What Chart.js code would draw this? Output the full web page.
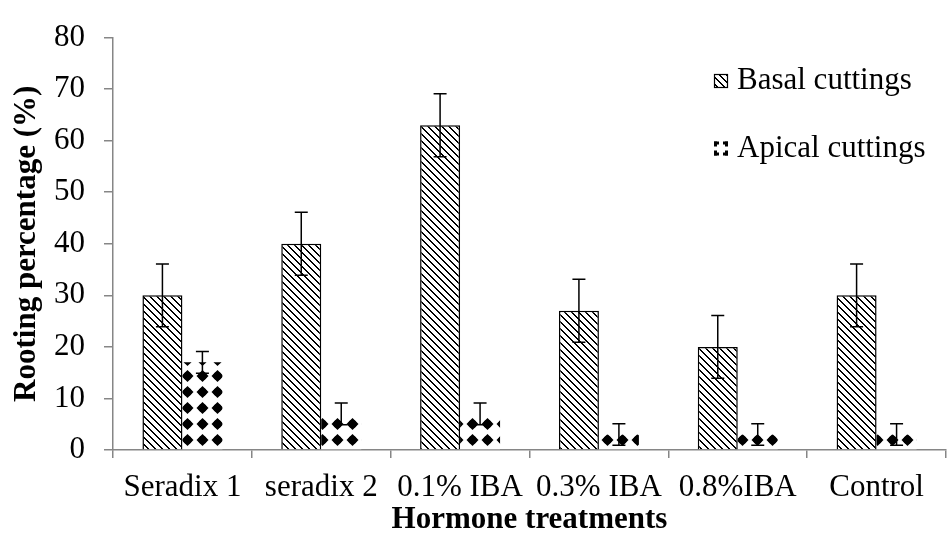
<!DOCTYPE html>
<html><head><meta charset="utf-8">
<script src="https://cdn.jsdelivr.net/npm/chart.js@4"></script>
<style>html,body{margin:0;padding:0;background:#fff}#wrap{width:947px;height:540px;position:relative}</style>
</head><body><div id="wrap"><canvas id="c"></canvas></div>
<script>
const categories = ['Seradix 1', 'seradix 2', '0.1% IBA', '0.3% IBA', '0.8%IBA', 'Control'];
const seriesLabels = ['Basal cuttings', 'Apical cuttings'];
const basalValues = [30, 40, 63, 27, 20, 30];
const apicalValues = [17, 7, 7, 3, 3, 3];
const basalErrors = [6.1, 6.1, 6.1, 6.1, 6.1, 6.1];
const apicalErrors = [2.1, 2.1, 2.1, 2.1, 2.1, 2.1];
const yMin = 0, yMax = 80, yStep = 10;
const xTitle = 'Hormone treatments';
const yTitle = 'Rooting percentage (%)';

const FONT = '"Liberation Serif", "Times New Roman", serif';
const AXIS = '#868686';

function makeHatch() {
  const c = document.createElement('canvas'); c.width = 7; c.height = 7;
  const g = c.getContext('2d');
  g.fillStyle = '#fff'; g.fillRect(0, 0, 7, 7);
  g.fillStyle = '#000';
  for (let i = 0; i < 7; i++) { g.fillRect(i, i, 1, 1); g.fillRect((i + 1) % 7, i, 1, 1); }
  return g.createPattern(c, 'repeat');
}
function makeDots() {
  const c = document.createElement('canvas'); c.width = 15; c.height = 16;
  const g = c.getContext('2d');
  g.fillStyle = '#fff'; g.fillRect(0, 0, 15, 16);
  g.fillStyle = '#000';
  g.beginPath(); g.moveTo(7.5, 2); g.lineTo(13.5, 8); g.lineTo(7.5, 14); g.lineTo(1.5, 8); g.closePath(); g.fill();
  g.beginPath(); g.arc(7.5, 8, 4.3, 0, Math.PI * 2); g.fill();
  return g.createPattern(c, 'repeat');
}
const hatch = makeHatch();
const dots = makeDots();

const errorBars = {
  id: 'errorBars',
  afterDatasetsDraw(chart) {
    const { ctx, scales: { y } } = chart;
    const errs = [basalErrors, apicalErrors];
    ctx.save();
    ctx.strokeStyle = '#000'; ctx.lineWidth = 1.5;
    chart.data.datasets.forEach((ds, di) => {
      const meta = chart.getDatasetMeta(di);
      meta.data.forEach((bar, i) => {
        const v = ds.data[i], e = errs[di][i];
        const x = bar.x;
        const t = y.getPixelForValue(v + e), b = y.getPixelForValue(v - e);
        ctx.beginPath();
        ctx.moveTo(x, t); ctx.lineTo(x, b);
        ctx.moveTo(x - 6.5, t); ctx.lineTo(x + 6.5, t);
        ctx.moveTo(x - 6.5, b); ctx.lineTo(x + 6.5, b);
        ctx.stroke();
      });
    });
    ctx.restore();
  }
};

const insideLegend = {
  id: 'insideLegend',
  afterDraw(chart) {
    const ctx = chart.ctx;
    const ys = [81, 148.5];
    const bx = 714, bs = 14, tx = 737;
    ctx.save();
    chart.data.datasets.forEach((ds, i) => {
      const cy = ys[i];
      const top = cy - bs / 2;
      if (i === 0) {
        ctx.fillStyle = hatch; ctx.fillRect(bx, top, bs, bs);
        ctx.strokeStyle = '#000'; ctx.lineWidth = 1.2;
        ctx.strokeRect(bx + 0.5, top + 0.5, bs - 1, bs - 1);
      } else {
        ctx.fillStyle = '#000';
        const L = 5, T = 3;
        ctx.fillRect(bx, top, L, T); ctx.fillRect(bx, top, T, L);
        ctx.fillRect(bx + bs - L, top, L, T); ctx.fillRect(bx + bs - T, top, T, L);
        ctx.fillRect(bx, top + bs - T, L, T); ctx.fillRect(bx, top + bs - L, T, L);
        ctx.fillRect(bx + bs - L, top + bs - T, L, T); ctx.fillRect(bx + bs - T, top + bs - L, T, L);
      }
      ctx.fillStyle = '#000';
      ctx.font = '31px ' + FONT;
      ctx.textBaseline = 'middle'; ctx.textAlign = 'left';
      ctx.fillText(ds.label, tx, cy);
    });
    ctx.restore();
  }
};

Chart.defaults.font.family = FONT;
Chart.defaults.color = '#000';

new Chart(document.getElementById('c'), {
  type: 'bar',
  data: {
    labels: categories,
    datasets: [
      { label: seriesLabels[0], data: basalValues, backgroundColor: hatch, borderColor: '#000', borderWidth: 1.5,
        categoryPercentage: 0.576, barPercentage: 1.0 },
      { label: seriesLabels[1], data: apicalValues, backgroundColor: dots, borderWidth: 0,
        categoryPercentage: 0.576, barPercentage: 1.0 }
    ]
  },
  options: {
    responsive: true, maintainAspectRatio: false, animation: false,
    layout: { padding: { top: 21, right: 1, left: 0, bottom: 0 } },
    plugins: { legend: { display: false }, tooltip: { enabled: false } },
    scales: {
      x: {
        grid: { drawOnChartArea: false, drawTicks: true, tickLength: 8, color: AXIS, lineWidth: 1.5, offset: true },
        border: { color: AXIS, width: 1.5 },
        ticks: { font: { size: 31 }, padding: 11, color: '#000', maxRotation: 0, autoSkip: false },
        title: { display: true, text: xTitle, font: { size: 31, weight: 'bold' }, padding: { top: 0, bottom: 1 }, color: '#000' },
        afterFit(scale) { scale.height = 90; }
      },
      y: {
        min: yMin, max: yMax,
        grid: { drawOnChartArea: false, drawTicks: true, tickLength: 9, color: AXIS, lineWidth: 1.5 },
        border: { color: AXIS, width: 1.5 },
        ticks: { stepSize: yStep, font: { size: 31 }, padding: 19, color: '#000' },
        title: { display: true, text: yTitle, font: { size: 31, weight: 'bold' }, padding: { top: 8, bottom: 0 }, color: '#000' },
        afterFit(scale) { scale.width = 113; }
      }
    }
  },
  plugins: [errorBars, insideLegend]
});
</script>
</body></html>
